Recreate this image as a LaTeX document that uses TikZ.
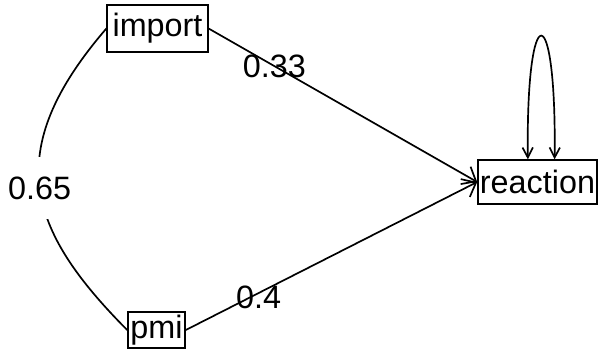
\documentclass[tikz,border=0pt]{standalone}
\usepackage{fontspec}
\setmainfont{Liberation Sans}
\usetikzlibrary{arrows.meta}
\tikzset{
  varbox/.style={rectangle, draw=black, line width=1pt, inner sep=0pt,
    font=\fontsize{23}{27}\selectfont},
  elabel/.style={inner sep=0pt, font=\fontsize{23}{27}\selectfont},
  arrow/.style={-{Straight Barb[length=0.3cm,width=0.5cm]}, line width=1.2pt},
  loop/.style={{Straight Barb[length=0.25cm,width=0.26cm]}-{Straight Barb[length=0.25cm,width=0.26cm]}, line width=1.2pt},
  line/.style={line width=1.2pt}
}
\begin{document}
\begin{tikzpicture}[x=0.025cm, y=-0.025cm]
  \useasboundingbox (0,0) rectangle (600,358);
  \node[varbox, minimum width=2.52cm, minimum height=1.175cm] (imp) at (157.5,28.5) {import};
  \node[varbox, minimum width=1.43cm, minimum height=0.9cm] (pmi) at (156.5,330) {pmi};
  \node[varbox, minimum width=2.98cm, minimum height=1.1cm] (rea) at (537.5,182) {reaction};

  \draw[arrow] (imp.east) -- node[elabel, pos=0.245] {0.33} (rea.west);
  \draw[arrow] (pmi.east) -- node[elabel, pos=0.25, yshift=-0.1cm] {0.4} (rea.west);
  \draw[line] (imp.west) .. controls (0,152) and (28,230) ..
    node[elabel, fill=white, inner ysep=14pt, inner xsep=2pt] {0.65} (pmi.west);
  \draw[loop] (rea.113) .. controls +(-2,-164) and +(2,-164) .. (rea.53);
\end{tikzpicture}
\end{document}
